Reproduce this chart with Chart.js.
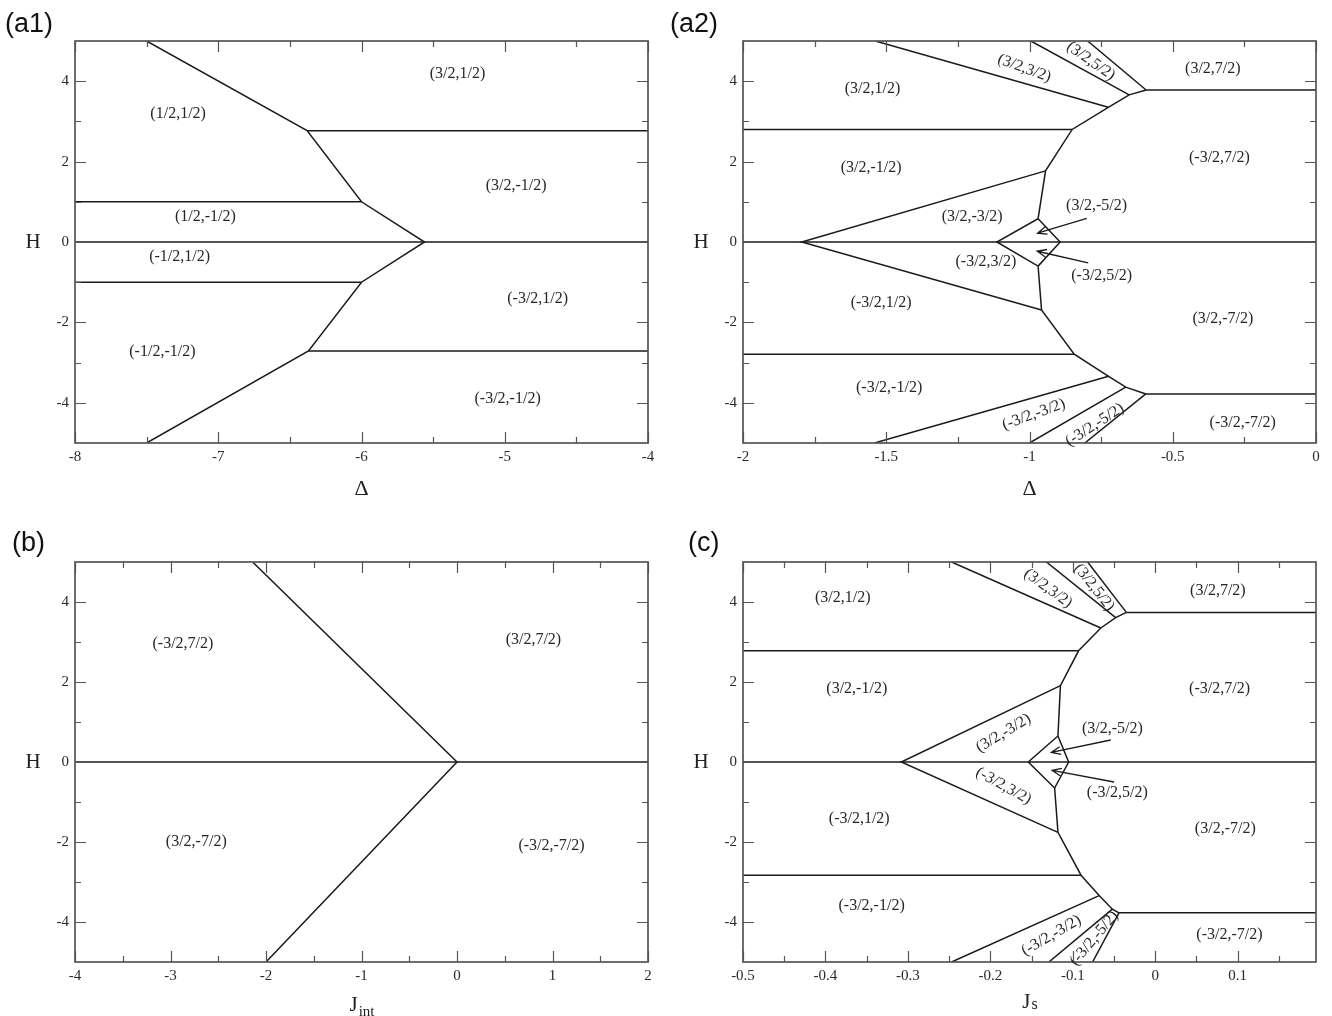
<!DOCTYPE html>
<html>
<head>
<meta charset="utf-8">
<script src="https://cdn.jsdelivr.net/npm/chart.js@4.4.1/dist/chart.umd.min.js"></script>
<style>
  body { margin: 0; background: #fff; }
  .panel { position: absolute; }
</style>
</head>
<body>
<div class="panel" style="left:0;top:0"><canvas id="a1" width="666" height="500"></canvas></div>
<div class="panel" style="left:666px;top:0"><canvas id="a2" width="666" height="500"></canvas></div>
<div class="panel" style="left:0;top:500px"><canvas id="b" width="666" height="516"></canvas></div>
<div class="panel" style="left:666px;top:500px"><canvas id="c" width="666" height="516"></canvas></div>
<script>
// shared H axis
var hTicks = [-4, -2, 0, 2, 4];
var hMinor = [-3, -1, 1, 3];

// (a1) H vs Delta, Delta in [-8,-4]
var a1XTicks = [-8, -7, -6, -5, -4];
var a1XMinor = [-7.5, -6.5, -5.5, -4.5];
var a1Lines = [
  [[-7.5, 5], [-6.38, 2.77], [-6.0, 1.0], [-5.56, 0], [-6.0, -1.0], [-6.37, -2.71], [-7.5, -5]],
  [[-6.38, 2.77], [-4, 2.77]],
  [[-8, 1.0], [-6.0, 1.0]],
  [[-8, 0], [-4, 0]],
  [[-8, -1.0], [-6.0, -1.0]],
  [[-6.37, -2.71], [-4, -2.71]]
];
var a1Labels = [
  ['(3/2,1/2)', -5.33, 4.18, 0],
  ['(1/2,1/2)', -7.28, 3.2, 0],
  ['(3/2,-1/2)', -4.92, 1.4, 0],
  ['(1/2,-1/2)', -7.09, 0.63, 0],
  ['(-1/2,1/2)', -7.27, -0.37, 0],
  ['(-3/2,1/2)', -4.77, -1.42, 0],
  ['(-1/2,-1/2)', -7.39, -2.73, 0],
  ['(-3/2,-1/2)', -4.98, -3.89, 0]
];
var a1Arrows = [];

// (a2) H vs Delta, Delta in [-2,0]
var a2XTicks = [-2, -1.5, -1, -0.5, 0];
var a2XMinor = [-1.75, -1.25, -0.75, -0.25];
var a2Lines = [
  [[-1.538, 5], [-0.725, 3.35]],
  [[-0.995, 5], [-0.652, 3.66]],
  [[-0.797, 5], [-0.593, 3.78]],
  [[-0.593, 3.78], [0, 3.78]],
  [[-0.593, 3.78], [-0.652, 3.66], [-0.725, 3.35], [-0.851, 2.8], [-0.944, 1.77], [-0.97, 0.58],
   [-1.114, 0], [-0.97, -0.6], [-0.958, -1.69], [-0.844, -2.79], [-0.724, -3.34], [-0.664, -3.61], [-0.594, -3.78]],
  [[-0.97, 0.58], [-0.893, 0], [-0.97, -0.6]],
  [[-2, 2.8], [-0.851, 2.8]],
  [[-0.944, 1.77], [-1.795, 0], [-0.958, -1.69]],
  [[-2, 0], [0, 0]],
  [[-2, -2.79], [-0.844, -2.79]],
  [[-0.594, -3.78], [0, -3.78]],
  [[-0.724, -3.34], [-1.541, -5]],
  [[-0.664, -3.61], [-1.0, -5]],
  [[-0.594, -3.78], [-0.807, -5]]
];
var a2Labels = [
  ['(3/2,1/2)', -1.548, 3.82, 0],
  ['(3/2,3/2)', -1.018, 4.32, 20],
  ['(3/2,5/2)', -0.786, 4.5, 35],
  ['(3/2,7/2)', -0.36, 4.32, 0],
  ['(-3/2,7/2)', -0.337, 2.09, 0],
  ['(3/2,-1/2)', -1.553, 1.85, 0],
  ['(3/2,-3/2)', -1.2, 0.63, 0],
  ['(3/2,-5/2)', -0.766, 0.9, 0],
  ['(-3/2,3/2)', -1.152, -0.5, 0],
  ['(-3/2,5/2)', -0.748, -0.85, 0],
  ['(-3/2,1/2)', -1.518, -1.5, 0],
  ['(3/2,-7/2)', -0.325, -1.92, 0],
  ['(-3/2,-1/2)', -1.49, -3.62, 0],
  ['(-3/2,-3/2)', -0.985, -4.29, -20],
  ['(-3/2,-5/2)', -0.772, -4.55, -33],
  ['(-3/2,-7/2)', -0.256, -4.5, 0]
];
var a2Arrows = [
  [[-0.80, 0.59], [-0.972, 0.22]],
  [[-0.795, -0.52], [-0.973, -0.23]]
];

// (b) H vs J_int
var bXTicks = [-4, -3, -2, -1, 0, 1, 2];
var bXMinor = [-3.5, -2.5, -1.5, -0.5, 0.5, 1.5];
var bLines = [
  [[-2.14, 5], [0, 0], [-2.0, -5]],
  [[-4, 0], [2, 0]]
];
var bLabels = [
  ['(-3/2,7/2)', -2.87, 2.95, 0],
  ['(3/2,7/2)', 0.8, 3.05, 0],
  ['(3/2,-7/2)', -2.73, -2.0, 0],
  ['(-3/2,-7/2)', 0.99, -2.1, 0]
];
var bArrows = [];

// (c) H vs J_s
var cXTicks = [-0.5, -0.4, -0.3, -0.2, -0.1, 0, 0.1];
var cXMinor = [-0.45, -0.35, -0.25, -0.15, -0.05, 0.05, 0.15];
var cLines = [
  [[-0.247, 5], [-0.066, 3.35]],
  [[-0.132, 5], [-0.048, 3.61]],
  [[-0.082, 5], [-0.035, 3.74]],
  [[-0.035, 3.74], [0.195, 3.74]],
  [[-0.035, 3.74], [-0.048, 3.61], [-0.066, 3.35], [-0.093, 2.78], [-0.115, 1.91], [-0.118, 0.65],
   [-0.154, 0], [-0.122, -0.65], [-0.118, -1.76], [-0.090, -2.83], [-0.068, -3.34], [-0.052, -3.68], [-0.044, -3.77]],
  [[-0.118, 0.65], [-0.105, 0], [-0.122, -0.65]],
  [[-0.5, 2.78], [-0.093, 2.78]],
  [[-0.115, 1.91], [-0.308, 0], [-0.118, -1.76]],
  [[-0.5, 0], [0.195, 0]],
  [[-0.5, -2.83], [-0.090, -2.83]],
  [[-0.044, -3.77], [0.195, -3.77]],
  [[-0.068, -3.34], [-0.247, -5]],
  [[-0.052, -3.68], [-0.129, -5]],
  [[-0.044, -3.77], [-0.076, -5]]
];
var cLabels = [
  ['(3/2,1/2)', -0.379, 4.11, 0],
  ['(3/2,3/2)', -0.13, 4.34, 36],
  ['(3/2,5/2)', -0.074, 4.36, 52],
  ['(3/2,7/2)', 0.076, 4.29, 0],
  ['(3/2,-1/2)', -0.362, 1.84, 0],
  ['(-3/2,7/2)', 0.078, 1.84, 0],
  ['(3/2,-3/2)', -0.184, 0.72, -31],
  ['(3/2,-5/2)', -0.052, 0.82, 0],
  ['(-3/2,3/2)', -0.184, -0.6, 29],
  ['(-3/2,5/2)', -0.046, -0.76, 0],
  ['(-3/2,1/2)', -0.359, -1.42, 0],
  ['(3/2,-7/2)', 0.085, -1.67, 0],
  ['(-3/2,-1/2)', -0.344, -3.6, 0],
  ['(-3/2,-3/2)', -0.126, -4.34, -30],
  ['(-3/2,-5/2)', -0.074, -4.41, -50],
  ['(-3/2,-7/2)', 0.09, -4.32, 0]
];
var cArrows = [
  [[-0.054, 0.55], [-0.126, 0.24]],
  [[-0.050, -0.50], [-0.125, -0.21]]
];

var serif = 'Liberation Serif';
var ink = '#1a1a1a';

function framePlugin(o) {
  return {
    id: 'frame_' + o.id,
    afterDraw: function(chart) {
      var ctx = chart.ctx, a = chart.chartArea;
      var xs = chart.scales.x, ys = chart.scales.y;
      ctx.save();
      // inward ticks on all four sides
      ctx.strokeStyle = '#555';
      ctx.lineWidth = 1.2;
      function xt(vals, len) {
        vals.forEach(function(v) {
          var px = Math.round(xs.getPixelForValue(v)) + 0.5;
          ctx.beginPath();
          ctx.moveTo(px, a.bottom); ctx.lineTo(px, a.bottom - len);
          ctx.moveTo(px, a.top); ctx.lineTo(px, a.top + len);
          ctx.stroke();
        });
      }
      function yt(vals, len) {
        vals.forEach(function(v) {
          var py = Math.round(ys.getPixelForValue(v)) + 0.5;
          ctx.beginPath();
          ctx.moveTo(a.left, py); ctx.lineTo(a.left + len, py);
          ctx.moveTo(a.right, py); ctx.lineTo(a.right - len, py);
          ctx.stroke();
        });
      }
      xt(o.xTicks, 11); xt(o.xMinor, 6);
      yt(hTicks, 11); yt(hMinor, 6);
      // frame
      ctx.strokeStyle = '#555';
      ctx.lineWidth = 1.7;
      ctx.strokeRect(a.left, a.top, a.right - a.left, a.bottom - a.top);

      // region labels
      ctx.fillStyle = '#262626';
      ctx.font = '16px "' + serif + '"';
      ctx.textAlign = 'center';
      ctx.textBaseline = 'middle';
      o.labels.forEach(function(l) {
        ctx.save();
        ctx.translate(xs.getPixelForValue(l[1]), ys.getPixelForValue(l[2]));
        ctx.rotate(l[3] * Math.PI / 180);
        ctx.fillText(l[0], 0, 0);
        ctx.restore();
      });

      // arrows
      ctx.strokeStyle = ink;
      ctx.lineWidth = 1.3;
      o.arrows.forEach(function(ar) {
        var x0 = xs.getPixelForValue(ar[0][0]), y0 = ys.getPixelForValue(ar[0][1]);
        var x1 = xs.getPixelForValue(ar[1][0]), y1 = ys.getPixelForValue(ar[1][1]);
        var ang = Math.atan2(y1 - y0, x1 - x0), hl = 10, hw = 0.4;
        ctx.beginPath();
        ctx.moveTo(x0, y0); ctx.lineTo(x1, y1);
        ctx.moveTo(x1 - hl * Math.cos(ang - hw), y1 - hl * Math.sin(ang - hw));
        ctx.lineTo(x1, y1);
        ctx.lineTo(x1 - hl * Math.cos(ang + hw), y1 - hl * Math.sin(ang + hw));
        ctx.stroke();
      });

      // axis titles
      ctx.fillStyle = '#222';
      ctx.font = '21px "' + serif + '"';
      ctx.fillText('H', o.hX, ys.getPixelForValue(0));
      var cx = (a.left + a.right) / 2, ty = a.bottom + o.titleDy;
      if (o.sub) {
        var subFont = (o.subLow ? '15px' : '16px') + ' "' + serif + '"';
        ctx.font = '21px "' + serif + '"';
        var w1 = ctx.measureText('J').width;
        ctx.font = subFont;
        var w2 = ctx.measureText(o.sub).width;
        var sx = cx - (w1 + w2) / 2;
        ctx.textAlign = 'left';
        ctx.font = '21px "' + serif + '"';
        ctx.fillText('J', sx, ty);
        ctx.font = subFont;
        ctx.fillText(o.sub, sx + w1 + 1, ty + (o.subLow ? 7 : 3));
      } else {
        ctx.font = '22px "' + serif + '"';
        ctx.fillText(o.xTitle, cx, ty);
      }

      // panel tag
      ctx.textAlign = 'left';
      ctx.fillStyle = '#111';
      ctx.font = '27px "Liberation Sans"';
      ctx.fillText(o.tag, o.tagX, o.tagY);
      ctx.restore();
    }
  };
}

function makePanel(o) {
  var ds = o.lines.map(function(pts) {
    return {
      data: pts.map(function(p) { return { x: p[0], y: p[1] }; }),
      showLine: true,
      borderColor: ink,
      borderWidth: 1.5,
      pointRadius: 0,
      tension: 0,
      fill: false
    };
  });
  var tickFont = { family: serif, size: 15 };
  return new Chart(document.getElementById(o.id), {
    type: 'scatter',
    data: { datasets: ds },
    options: {
      responsive: false,
      animation: false,
      events: [],
      layout: { padding: { top: o.top, right: o.right, left: 0, bottom: 0 } },
      plugins: { legend: { display: false }, tooltip: { enabled: false } },
      scales: {
        x: {
          type: 'linear', min: o.xMin, max: o.xMax,
          afterBuildTicks: function(s) { s.ticks = o.xTicks.map(function(v) { return { value: v }; }); },
          afterFit: function(s) { s.height = o.bottom; },
          grid: { display: false, drawTicks: false },
          border: { display: false },
          ticks: { autoSkip: false, maxRotation: 0, padding: 5, color: '#2a2a2a', font: tickFont,
                   callback: function(v) { return String(v); } }
        },
        y: {
          type: 'linear', min: -5, max: 5,
          afterBuildTicks: function(s) { s.ticks = hTicks.map(function(v) { return { value: v }; }); },
          afterFit: function(s) { s.width = o.leftW; },
          grid: { display: false, drawTicks: false },
          border: { display: false },
          ticks: { autoSkip: false, padding: 6, color: '#2a2a2a', font: tickFont,
                   callback: function(v) { return String(v); } }
        }
      }
    },
    plugins: [framePlugin(o)]
  });
}

makePanel({ id: 'a1', xMin: -8, xMax: -4, xTicks: a1XTicks, xMinor: a1XMinor, lines: a1Lines,
  labels: a1Labels, arrows: a1Arrows, top: 41, right: 18, bottom: 57, leftW: 75,
  hX: 33, titleDy: 46, xTitle: '\u0394', tag: '(a1)', tagX: 5, tagY: 25 });
makePanel({ id: 'a2', xMin: -2, xMax: 0, xTicks: a2XTicks, xMinor: a2XMinor, lines: a2Lines,
  labels: a2Labels, arrows: a2Arrows, top: 41, right: 16, bottom: 57, leftW: 77,
  hX: 35, titleDy: 46, xTitle: '\u0394', tag: '(a2)', tagX: 4, tagY: 25 });
makePanel({ id: 'b', xMin: -4, xMax: 2, xTicks: bXTicks, xMinor: bXMinor, lines: bLines,
  labels: bLabels, arrows: bArrows, top: 62, right: 18, bottom: 54, leftW: 75,
  hX: 33, titleDy: 43, sub: 'int', subLow: true, tag: '(b)', tagX: 12, tagY: 44 });
makePanel({ id: 'c', xMin: -0.5, xMax: 0.195, xTicks: cXTicks, xMinor: cXMinor, lines: cLines,
  labels: cLabels, arrows: cArrows, top: 62, right: 16, bottom: 54, leftW: 77,
  hX: 35, titleDy: 40, sub: 's', subLow: false, tag: '(c)', tagX: 22, tagY: 44 });
</script>
</body>
</html>
